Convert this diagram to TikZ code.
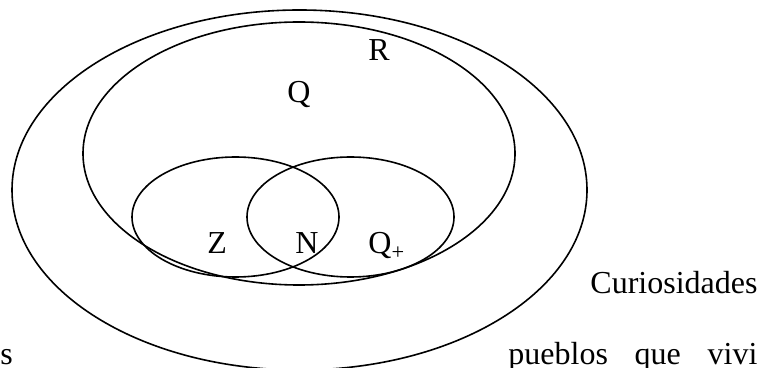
\documentclass[tikz,border=0pt]{standalone}
\usepackage{fontspec}
\setmainfont{Liberation Serif}

\begin{document}
\begin{tikzpicture}[
  x=0.5pt, y=-0.5pt,
  set/.style={draw, line width=0.8pt},
  lbl/.style={inner sep=0pt, anchor=base west, font=\fontsize{16}{19}\selectfont}
]
\useasboundingbox (0,0) rectangle (759,368);

% sets
\draw[set] (299.5,190) ellipse [x radius=287.5, y radius=180];
\draw[set] (299,153.5) ellipse [x radius=216, y radius=131.5];
\draw[set] (235.5,217) ellipse [x radius=103.5, y radius=60];
\draw[set] (350.5,217) ellipse [x radius=103.5, y radius=60];

% labels
\node[lbl] (r) at (368,60.5) {R};
\node[lbl] (q) at (287,103) {Q};
\node[lbl] (z) at (207,254) {Z};
\node[lbl] (n) at (295,254) {N};
\node[lbl] (qp) at (368,254) {Q\textsubscript{+}};

% surrounding text
\node[lbl] (cur) at (590,293) {Curiosidades};
\node[lbl] (s) at (0,364) {s};
\node[lbl] (pue) at (508,364) {\makebox[124.5pt][s]{pueblos que vivi}};
\end{tikzpicture}
\end{document}
